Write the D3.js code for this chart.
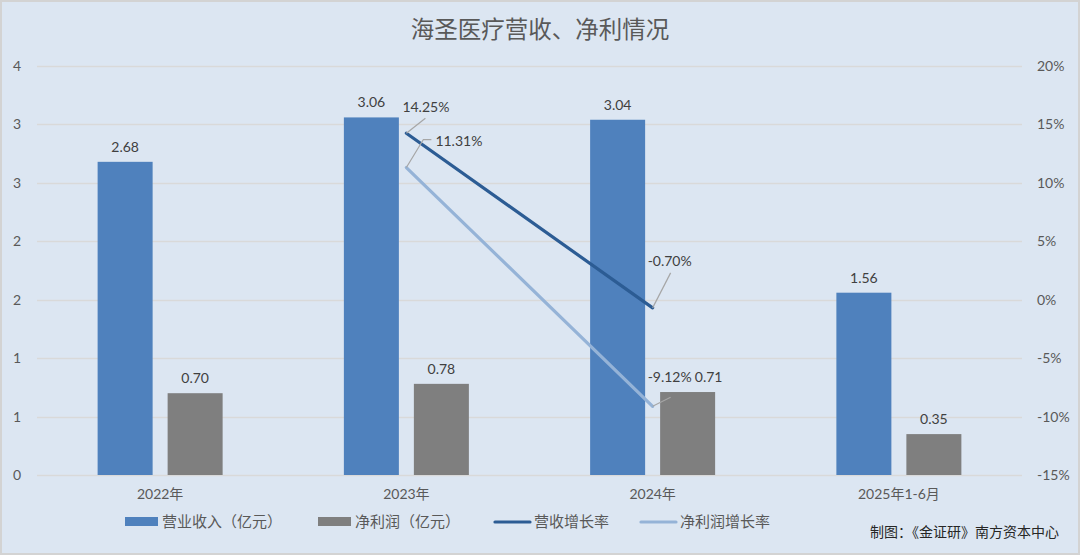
<!DOCTYPE html>
<html><head><meta charset="utf-8">
<script src="https://cdn.jsdelivr.net/npm/d3@7"></script>
<style>body{margin:0;background:#fff}svg{display:block}</style>
</head><body><svg id="c" width="1080" height="555"></svg>
<script>
const title = "海圣医疗营收、净利情况";
const categories = ["2022年","2023年","2024年","2025年1-6月"];
const revenue = [2.68, 3.06, 3.04, 1.56];
const profit = [0.70, 0.78, 0.71, 0.35];
const revGrowth = [null, 14.25, -0.70, null];
const profitGrowth = [null, 11.31, -9.12, null];
const leftTicks = [0, 0.5, 1, 1.5, 2, 2.5, 3, 3.5];
const leftTickLabels = ["0","1","1","2","2","3","3","4"];
const rightTicks = [-15, -10, -5, 0, 5, 10, 15, 20];
const seriesNames = ["营业收入（亿元）","净利润（亿元）","营收增长率","净利润增长率"];
const source = "制图：《金证研》南方资本中心";

const C = {blue:"#4f81bd", gray:"#7f7f7f", dark:"#2c5c94", light:"#95b3d7", text:"#595959", grid:"#d9d9d9"};
const FONT = "Lato, 'Noto Sans CJK SC', sans-serif";
const svg = d3.select("#c");
svg.append("rect").attr("x",1).attr("y",1).attr("width",1078).attr("height",553)
  .attr("fill","#dce6f2").attr("stroke","#d3d3d3").attr("stroke-width",2);

const L=37, R=1022, T=66, B=475;
const x = d3.scaleBand().domain(categories).range([L,R]).paddingInner(0).paddingOuter(0);
const xs = d3.scaleBand().domain(["rev","profit"]).range([-62.5,62.5]).paddingInner(15/70).paddingOuter(0);
const y = d3.scaleLinear().domain([0,3.5]).range([B,T]);
const y2 = d3.scaleLinear().domain([-15,20]).range([B,T]);

svg.append("text").attr("x",540).attr("y",38).attr("text-anchor","middle")
  .attr("font-family","'Noto Sans CJK SC', sans-serif").attr("font-size",23.5).attr("fill",C.text).text(title);

// gridlines
svg.append("g").selectAll("line").data(leftTicks).join("line")
  .attr("x1",L).attr("x2",R).attr("y1",d=>Math.round(y(d))+0.5).attr("y2",d=>Math.round(y(d))+0.5)
  .attr("stroke",C.grid).attr("stroke-width",1.3);

// left axis
const la = d3.axisLeft(y).tickValues(leftTicks).tickSize(0).tickPadding(0)
  .tickFormat((d,i)=>leftTickLabels[i]);
svg.append("g").attr("transform","translate(21,0)").call(la)
  .call(g=>g.select(".domain").remove())
  .selectAll("text").attr("font-family",FONT).attr("font-size",14).attr("fill",C.text);
// right axis
const ra = d3.axisRight(y2).tickValues(rightTicks).tickSize(0).tickPadding(0).tickFormat(d=>d+"%");
svg.append("g").attr("transform","translate(1037,0)").call(ra)
  .call(g=>g.select(".domain").remove())
  .selectAll("text").attr("font-family",FONT).attr("font-size",14).attr("fill",C.text);
// bottom axis
const ba = d3.axisBottom(x).tickSize(0).tickPadding(14);
svg.append("g").attr("transform",`translate(0,${B})`).call(ba)
  .call(g=>g.select(".domain").remove())
  .selectAll("text").attr("font-family",FONT).attr("font-size",14).attr("fill",C.text);

const cx = d=>x(d)+x.bandwidth()/2;
// bars
const bars = [{k:"rev",v:revenue,c:C.blue,off:[0,0,0,0]},{k:"profit",v:profit,c:C.gray,off:[0,0,21,0]}];
bars.forEach(s=>{
  const g = svg.append("g");
  g.selectAll("rect").data(categories).join("rect")
    .attr("x",(d)=>cx(d)+xs(s.k)).attr("width",xs.bandwidth())
    .attr("y",(d,i)=>y(s.v[i])).attr("height",(d,i)=>B-y(s.v[i])).attr("fill",s.c);
  g.selectAll("text").data(categories).join("text")
    .attr("x",(d,i)=>cx(d)+xs(s.k)+xs.bandwidth()/2+s.off[i]).attr("y",(d,i)=>y(s.v[i])-10)
    .attr("text-anchor","middle").attr("font-family",FONT).attr("font-size",14).attr("fill","#404040")
    .text((d,i)=>s.v[i].toFixed(2));
});

// lines
const lines = [{v:profitGrowth,c:C.light},{v:revGrowth,c:C.dark}];
lines.forEach(s=>{
  const pts = categories.map((d,i)=>[cx(d), s.v[i]]).filter(p=>p[1]!==null);
  svg.append("path").datum(pts)
    .attr("d",d3.line().x(p=>p[0]).y(p=>y2(p[1])))
    .attr("fill","none").attr("stroke",s.c).attr("stroke-width",3.2).attr("stroke-linecap","round");
});

// line labels with leaders
function lbl(cat, val, dx, dy, tx, ty, hook){
  const px = cx(cat), py = y2(val);
  const pts = [[px,py],[px+dx,py+dy]];
  if(hook) pts.push([px+dx+hook,py+dy]);
  svg.append("path").attr("d",d3.line()(pts)).attr("fill","none").attr("stroke","#a6a6a6").attr("stroke-width",1.2);
  svg.append("text").attr("x",px+tx).attr("y",py+ty).attr("font-family",FONT).attr("font-size",14)
    .attr("fill","#404040").text(val.toFixed(2)+"%");
}
lbl(categories[1], revGrowth[1], 19, -15, -4, -21, 0);
lbl(categories[1], profitGrowth[1], 17, -28, 29, -22, 8);
lbl(categories[2], revGrowth[2], 18, -35, -5, -42, 0);
lbl(categories[2], profitGrowth[2], 18, -9, -5, -24, 0);

// legend
const lg = [
  {x:125,t:"rect",c:C.blue},{x:318,t:"rect",c:C.gray},{x:495,t:"line",c:C.dark},{x:641,t:"line",c:C.light}];
lg.forEach((d,i)=>{
  if(d.t==="rect") svg.append("rect").attr("x",d.x).attr("y",517).attr("width",33).attr("height",9).attr("fill",d.c);
  else svg.append("line").attr("x1",d.x).attr("x2",d.x+35).attr("y1",522).attr("y2",522).attr("stroke",d.c).attr("stroke-width",3.2).attr("stroke-linecap","round");
  svg.append("text").attr("x",d.x+(d.t==="rect"?37:39)).attr("y",527).attr("font-family",FONT).attr("font-size",15)
    .attr("fill",C.text).text(seriesNames[i]);
});
svg.append("text").attr("x",1059).attr("y",537).attr("text-anchor","end").attr("font-family","'Noto Sans CJK SC', sans-serif")
  .attr("font-size",14).attr("fill","#262626").text(source);
</script></body></html>
